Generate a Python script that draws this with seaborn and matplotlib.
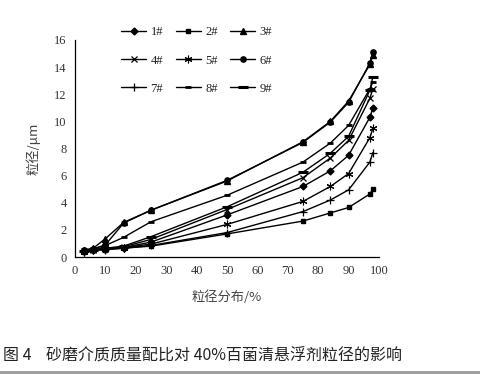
import numpy as np
import pandas as pd
import matplotlib
matplotlib.use("Agg")
import matplotlib.pyplot as plt
import seaborn as sns

# Data
percentiles = [3, 6, 10, 16, 25, 50, 75, 84, 90, 97, 98]
s1 = [0.45, 0.55, 0.6, 0.7, 1.1, 3.1, 5.2, 6.35, 7.5, 10.3, 11.0]
s2 = [0.4, 0.5, 0.55, 0.65, 0.8, 1.7, 2.65, 3.25, 3.65, 4.65, 5.0]
s3 = [0.5, 0.65, 1.35, 2.55, 3.45, 5.6, 8.5, 10.0, 11.5, 14.2, 14.9]
s4 = [0.45, 0.55, 0.6, 0.75, 1.3, 3.5, 5.85, 7.3, 8.6, 11.7, 12.4]
s5 = [0.4, 0.5, 0.6, 0.7, 0.95, 2.4, 4.1, 5.2, 6.15, 8.8, 9.5]
s6 = [0.5, 0.6, 0.9, 2.5, 3.45, 5.65, 8.45, 9.95, 11.4, 14.3, 15.1]
s7 = [0.4, 0.5, 0.55, 0.65, 0.85, 1.8, 3.35, 4.2, 4.95, 7.0, 7.7]
s8 = [0.5, 0.6, 0.85, 1.45, 2.6, 4.55, 7.0, 8.4, 9.7, 12.4, 12.9]
s9 = [0.45, 0.55, 0.65, 0.8, 1.5, 3.7, 6.25, 7.65, 8.9, 12.3, 13.3]
labels = ["1#", "2#", "3#", "4#", "5#", "6#", "7#", "8#", "9#"]
series = [s1, s2, s3, s4, s5, s6, s7, s8, s9]

rows = []
for lab, vals in zip(labels, series):
    for p, v in zip(percentiles, vals):
        rows.append({"pct": p, "size": v, "grp": lab})
df = pd.DataFrame(rows)

sns.set_style("white")
plt.rcParams['font.family'] = ['Liberation Serif', 'Noto Sans CJK SC']

markers = {"1#": "D", "2#": "s", "3#": "^", "4#": "x", "5#": (6, 2, 0),
           "6#": "o", "7#": "+", "8#": "_", "9#": "_"}
msizes = {"1#": 3.5, "2#": 3.5, "3#": 4, "4#": 5, "5#": 5.5,
          "6#": 3.8, "7#": 6, "8#": 4, "9#": 7}
mews = {"1#": 1.0, "2#": 1.0, "3#": 1.0, "4#": 0.9, "5#": 0.8,
        "6#": 1.0, "7#": 0.9, "8#": 2.0, "9#": 2.2}

fig = plt.figure(figsize=(4.81, 3.75), dpi=100)
ax = fig.add_axes([75/481, 1-257/375, (379-75)/481, (257-40)/375])

for lab in labels:
    sub = df[df.grp == lab]
    sns.lineplot(data=sub, x="pct", y="size", ax=ax, color="black", lw=1.0,
                 marker=markers[lab], markersize=msizes[lab],
                 markeredgewidth=mews[lab],
                 markeredgecolor="black", markerfacecolor="black",
                 label=lab, legend=False)

ax.set_xlim(0, 100)
ax.set_ylim(0, 16)
ax.set_xticks(range(0, 101, 10))
ax.set_yticks(range(0, 17, 2))
ax.tick_params(direction="in", length=4, width=0.8, labelsize=9, colors="black",
               pad=6)
for t in ax.get_xticklabels() + ax.get_yticklabels():
    t.set_color("#333333")
for sp in ["top", "right"]:
    ax.spines[sp].set_visible(False)
for sp in ["left", "bottom"]:
    ax.spines[sp].set_color("black")
    ax.spines[sp].set_linewidth(0.9)

ax.set_xlabel("粒径分布/%", family=['Noto Sans CJK SC'], fontsize=9.5, color="#444444", labelpad=9)
ax.set_ylabel("粒径/μm", family=['Noto Sans CJK SC'], fontsize=9.5, color="#444444", labelpad=10)

handles, labs = ax.get_legend_handles_labels()
order = [0, 3, 6, 1, 4, 7, 2, 5, 8]
leg = ax.legend([handles[i] for i in order], [labs[i] for i in order], ncol=3,
                loc="upper left", bbox_to_anchor=(0.115, 1.115),
                frameon=False, fontsize=9, handlelength=2.0, handletextpad=0.35,
                columnspacing=1.0, labelspacing=1.3)
for t in leg.get_texts():
    t.set_color("#222222")

fig.text(3/481, 1-355/375, "图 4    砂磨介质质量配比对 40%百菌清悬浮剂粒径的影响",
         family=['Noto Sans CJK SC'], fontsize=11.5, color="#222222", va="center",
         fontweight="medium")
fig.add_artist(plt.Line2D([0, 1], [1-372/375, 1-372/375], color="#999999", lw=2,
                          transform=fig.transFigure))

fig.savefig("out.png", dpi=100)
